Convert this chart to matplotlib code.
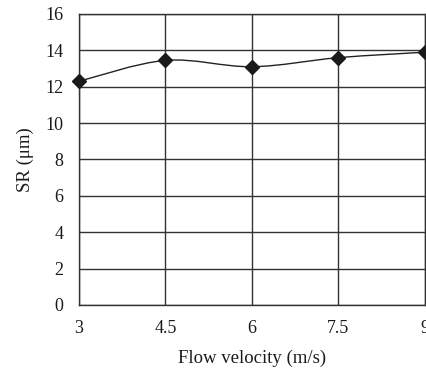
import matplotlib
matplotlib.use("Agg")
import matplotlib.pyplot as plt
from matplotlib.path import Path
from matplotlib.patches import PathPatch

plt.rcParams['font.family'] = ['Liberation Serif', 'DejaVu Serif']

velocity = [3, 4.5, 6, 7.5, 9]
sr = [12.3, 13.45, 13.1, 13.6, 13.9]
x_ticks = [3, 4.5, 6, 7.5, 9]
x_labels = ['3', '4.5', '6', '7.5', '9']
y_ticks = [0, 2, 4, 6, 8, 10, 12, 14, 16]


def smooth_path(xs, ys, t=0.5):
    # catmull-rom style bezier, like a "smoothed line" in a spreadsheet
    verts = [(xs[0], ys[0])]
    codes = [Path.MOVETO]
    n = len(xs)
    for i in range(n - 1):
        x0, y0 = (xs[i - 1], ys[i - 1]) if i > 0 else (xs[i], ys[i])
        x1, y1 = xs[i], ys[i]
        x2, y2 = xs[i + 1], ys[i + 1]
        x3, y3 = (xs[i + 2], ys[i + 2]) if i + 2 < n else (x2, y2)
        c1 = (x1 + (x2 - x0) * t / 3, y1 + (y2 - y0) * t / 3)
        c2 = (x2 - (x3 - x1) * t / 3, y2 - (y3 - y1) * t / 3)
        verts += [c1, c2, (x2, y2)]
        codes += [Path.CURVE4] * 3
    return Path(verts, codes)


fig = plt.figure(figsize=(4.26, 3.70), dpi=100)
ax = fig.add_axes([0.1854, 0.1757, 0.8122, 0.7865])

ax.add_patch(PathPatch(smooth_path(velocity, sr), fill=False,
                       edgecolor='#222222', lw=1.0, zorder=3))
ax.plot(velocity, sr, linestyle='none', marker='D', markersize=7,
        color='#1a1a1a', zorder=4, clip_on=False)

ax.set_xlim(3, 9)
ax.set_ylim(0, 16)
ax.set_xticks(x_ticks)
ax.set_xticklabels(x_labels)
ax.set_yticks(y_ticks)
ax.grid(True, color='#333333', lw=1.0)
ax.set_axisbelow(True)
ax.tick_params(length=0, labelsize=13, colors='#1a1a1a')
ax.tick_params(axis='x', pad=11)
ax.tick_params(axis='y', pad=11)
for s in ax.spines.values():
    s.set_color('#333333')
    s.set_linewidth(1.0)

ax.set_xlabel('Flow velocity (m/s)', fontsize=13.5, color='#1a1a1a', labelpad=9)
ax.set_ylabel('SR (μm)', fontsize=13.5, color='#1a1a1a', labelpad=8)

fig.savefig('out.png', dpi=100)
